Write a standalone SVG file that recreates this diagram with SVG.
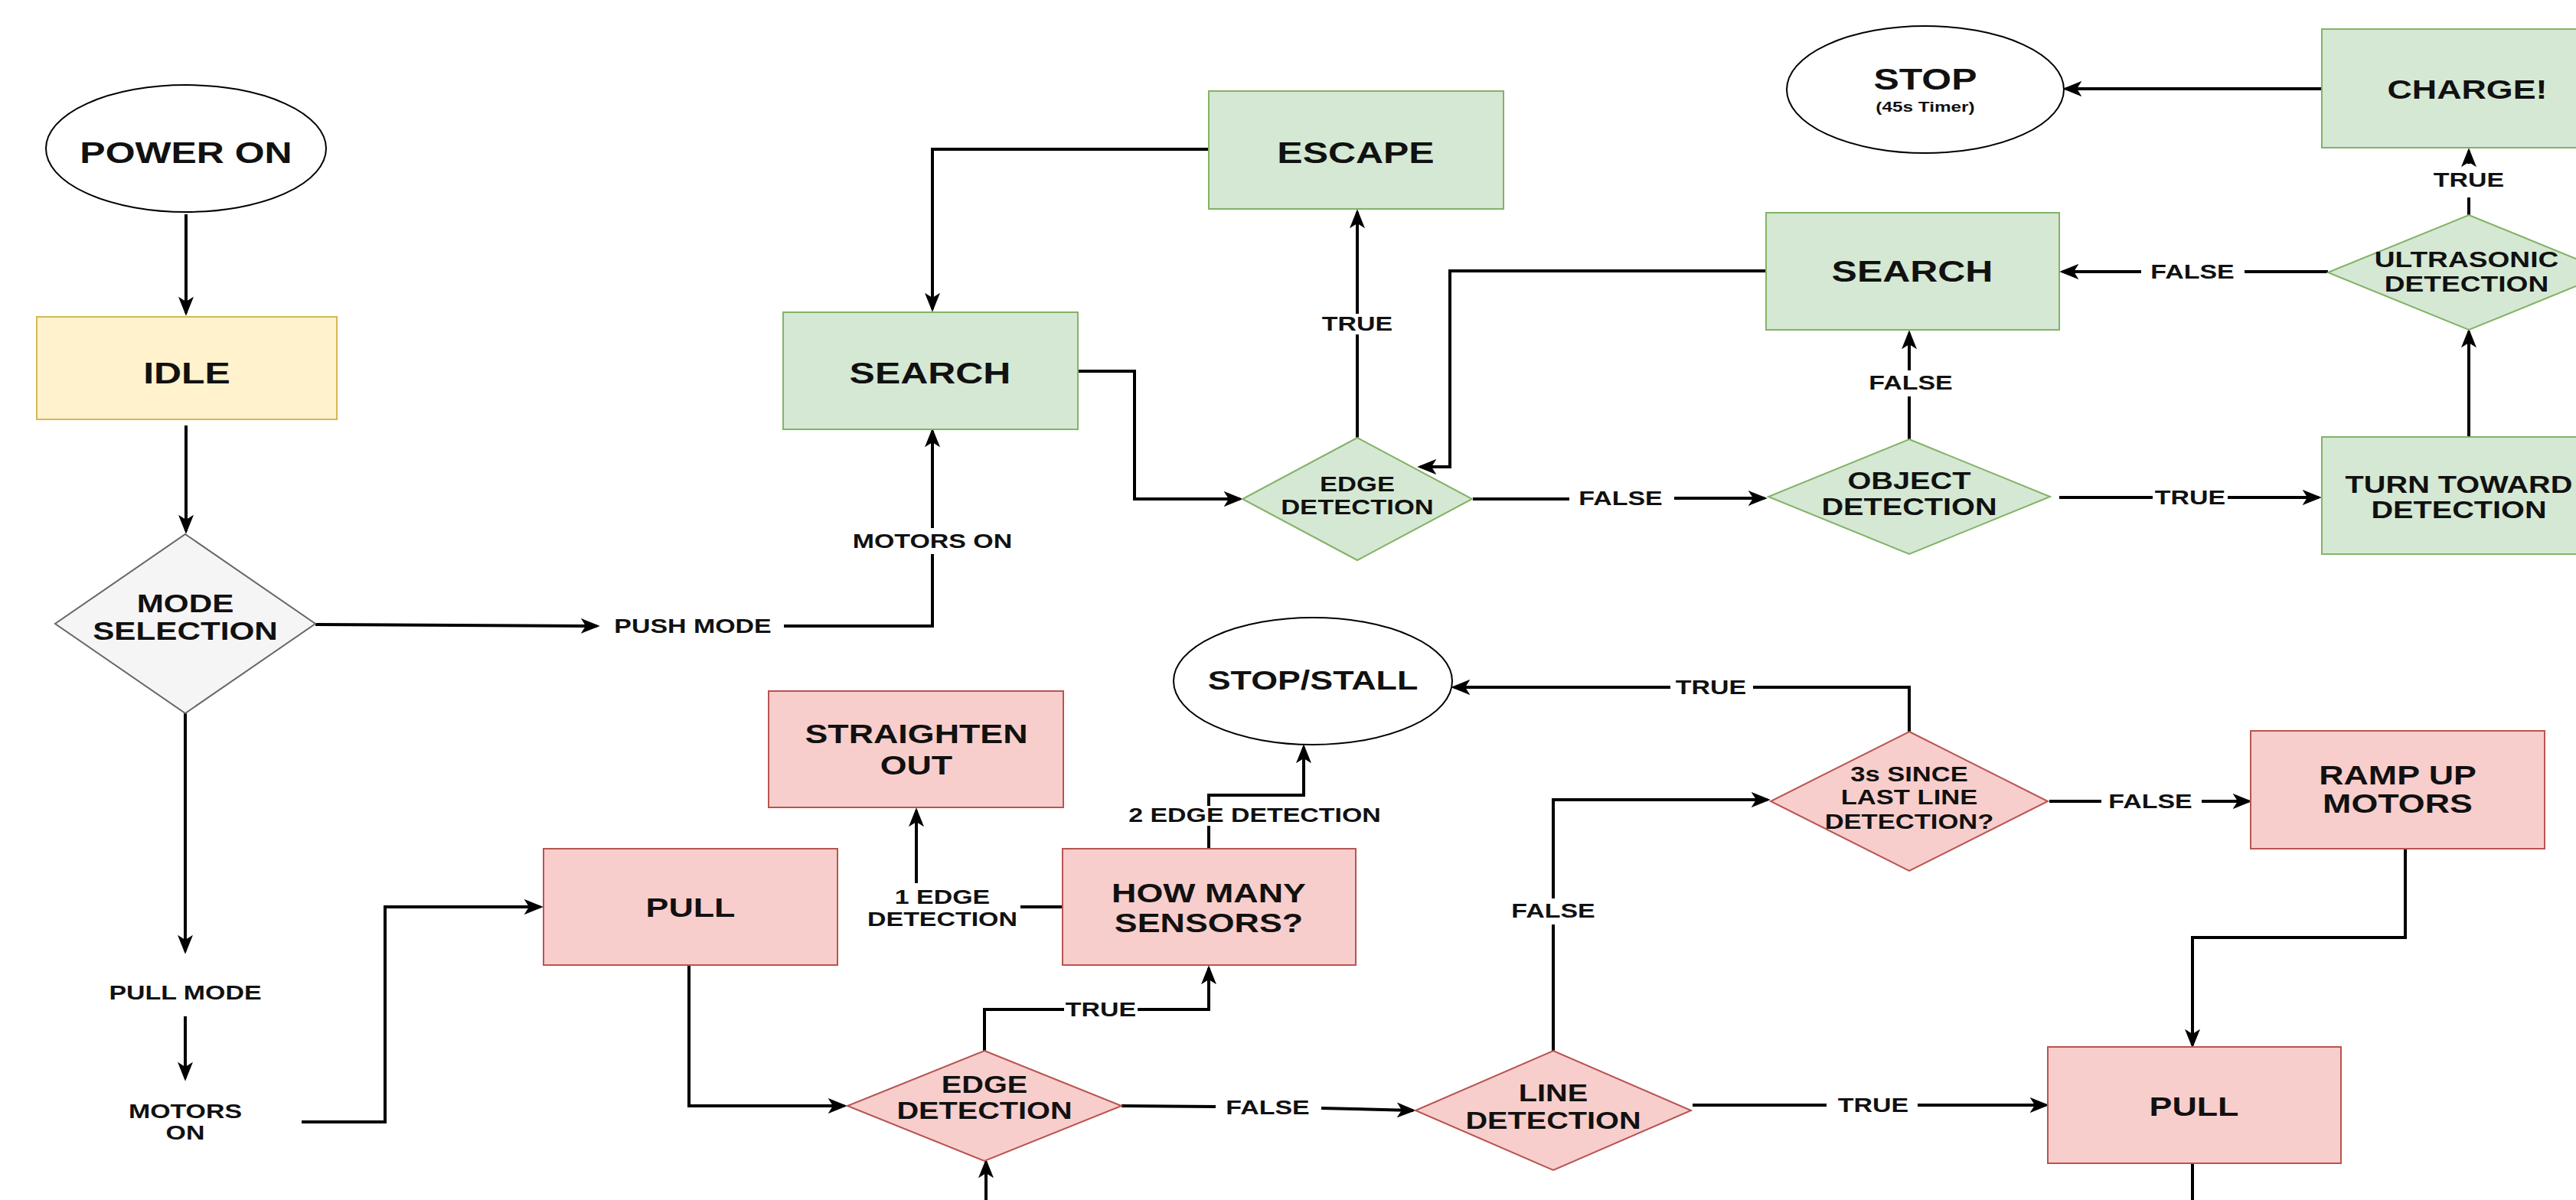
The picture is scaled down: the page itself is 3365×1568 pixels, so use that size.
<svg xmlns="http://www.w3.org/2000/svg" width="3365" height="1568" viewBox="0 0 3365 1568">
<style>
.g{fill:#d5e8d4;stroke:#82b366;stroke-width:2}
.r{fill:#f8cecc;stroke:#b85450;stroke-width:2}
.y{fill:#fff2cc;stroke:#d6b656;stroke-width:2}
.gr{fill:#f5f5f5;stroke:#666;stroke-width:2}
.e{fill:#fff;stroke:#000;stroke-width:2}
.c path{fill:none;stroke:#000;stroke-width:4}
.c path.a{marker-end:url(#ah)}
text{font-family:"Liberation Sans",Arial,sans-serif;font-weight:bold;fill:#111;text-anchor:middle;transform-box:fill-box;transform-origin:center;transform:scaleX(1.28)}
.f39{font-size:39px}.f35{font-size:35px}.f33{font-size:33px}.f31{font-size:31px}.f29{font-size:29px}.f27{font-size:27px}.f19{font-size:19px}
.l{font-size:26.5px}
</style>
<defs>
<marker id="ah" viewBox="0 0 20 16" refX="17" refY="8" markerWidth="25" markerHeight="20" markerUnits="userSpaceOnUse" orient="auto">
<path d="M0,0 L20,8 L0,16 L5,8 z" fill="#000"/>
</marker>
</defs>
<rect width="3365" height="1568" fill="#fff"/>

<g id="connectors" class="c">
<path class="a" d="M243,280 V409"/>
<path class="a" d="M243,556 V694"/>
<path class="a" d="M412,816 L780,818"/>
<path d="M1024,818 H1218 V724"/>
<path class="a" d="M1218,690 V563"/>
<path class="a" d="M242,932 V1243"/>
<path class="a" d="M242,1328 V1409"/>
<path class="a" d="M394,1466 H503 V1185 H706"/>
<path class="a" d="M1579,195 H1218 V404"/>
<path class="a" d="M1408,485 H1482 V652 H1620"/>
<path d="M1773,572 V437"/>
<path class="a" d="M1773,410 V277"/>
<path d="M1924,652 H2050"/>
<path class="a" d="M2187,651 H2305"/>
<path class="a" d="M2307,354 H1894 V610 H1855"/>
<path d="M2494,574 V518"/>
<path class="a" d="M2494,484 V435"/>
<path d="M2690,650 H2812"/>
<path class="a" d="M2910,650 H3029"/>
<path class="a" d="M3225,571 V433"/>
<path d="M3225,281 V258"/>
<path class="a" d="M3225,214 V197"/>
<path d="M3041,355 H2932"/>
<path class="a" d="M2797,355 H2694"/>
<path class="a" d="M3033,116 H2698"/>
<path class="a" d="M900,1261 V1445 H1103"/>
<path d="M1286,1373 V1319 H1390"/>
<path class="a" d="M1486,1319 H1579 V1265"/>
<path d="M1388,1185 H1333"/>
<path class="a" d="M1197,1154 V1059"/>
<path d="M1579,1109 V1079"/>
<path class="a" d="M1579,1053 V1039 H1703 V976"/>
<path d="M2494,956 V898 H2290"/>
<path class="a" d="M2182,898 H1899"/>
<path d="M1465,1445 L1588,1446"/>
<path class="a" d="M1726,1448 L1846,1451"/>
<path d="M2029,1373 V1208"/>
<path class="a" d="M2029,1174 V1045 H2309"/>
<path d="M2211,1444 H2386"/>
<path class="a" d="M2505,1444 H2673"/>
<path d="M2677,1047 H2745"/>
<path class="a" d="M2876,1047 H2938"/>
<path class="a" d="M3142,1109 V1225 H2864 V1366"/>
<path d="M2864,1520 V1568"/>
<path class="a" d="M1288,1568 V1518"/>
</g>

<g id="edge-labels">
<text class="l" x="905" y="827.5">PUSH MODE</text>
<text class="l" x="1218" y="716.5">MOTORS ON</text>
<text class="l" x="242" y="1306.5">PULL MODE</text>
<text class="l" x="242" y="1461.5">MOTORS</text>
<text class="l" x="242" y="1489.5">ON</text>
<text class="l" x="1773" y="432.5">TRUE</text>
<text class="l" x="2117" y="660.5">FALSE</text>
<text class="l" x="2496" y="509.5">FALSE</text>
<text class="l" x="2861" y="659.5">TRUE</text>
<text class="l" x="3225" y="244.5">TRUE</text>
<text class="l" x="2864" y="364.5">FALSE</text>
<text class="l" x="1438" y="1328.5">TRUE</text>
<text class="l" x="1231" y="1181.5">1 EDGE</text>
<text class="l" x="1231" y="1210.5">DETECTION</text>
<text class="l" x="1639" y="1074.5">2 EDGE DETECTION</text>
<text class="l" x="2235" y="907.5">TRUE</text>
<text class="l" x="1656" y="1456.5">FALSE</text>
<text class="l" x="2029" y="1199.5">FALSE</text>
<text class="l" x="2447" y="1453.5">TRUE</text>
<text class="l" x="2809" y="1056.5">FALSE</text>
</g>

<g id="power-on"><ellipse class="e" cx="243" cy="194" rx="183" ry="83"/><text class="f39" x="243" y="213">POWER ON</text></g>
<g id="idle"><rect class="y" x="48" y="414" width="392" height="134"/><text class="f39" x="244" y="501">IDLE</text></g>
<g id="mode-selection"><polygon class="gr" points="242,698 412,815 242,932 72,815"/><text class="f33" x="242" y="800">MODE</text><text class="f33" x="242" y="836">SELECTION</text></g>

<g id="search-1"><rect class="g" x="1023" y="408" width="385" height="153"/><text class="f39" x="1215" y="501">SEARCH</text></g>
<g id="escape"><rect class="g" x="1579" y="119" width="385" height="154"/><text class="f39" x="1771" y="213">ESCAPE</text></g>
<g id="edge-detection-1"><polygon class="g" points="1773,572 1923,652 1773,732 1623,652"/><text class="f27" x="1773" y="642">EDGE</text><text class="f27" x="1773" y="672">DETECTION</text></g>
<g id="object-detection"><polygon class="g" points="2494,574 2678,649 2494,724 2310,649"/><text class="f31" x="2494" y="639">OBJECT</text><text class="f31" x="2494" y="673">DETECTION</text></g>
<g id="search-2"><rect class="g" x="2307" y="278" width="383" height="153"/><text class="f39" x="2498" y="368">SEARCH</text></g>
<g id="turn-toward"><rect class="g" x="3033" y="571" width="390" height="153"/><text class="f31" x="3212" y="644">TURN TOWARD</text><text class="f31" x="3212" y="677">DETECTION</text></g>
<g id="ultrasonic"><polygon class="g" points="3225,281 3409,356 3225,431 3041,356"/><text class="f29" x="3222" y="349.5">ULTRASONIC</text><text class="f29" x="3222" y="381">DETECTION</text></g>
<g id="charge"><rect class="g" x="3033" y="38" width="390" height="155"/><text class="f35" x="3223" y="129">CHARGE!</text></g>
<g id="stop"><ellipse class="e" cx="2515" cy="117" rx="181" ry="83"/><text class="f39" x="2515" y="117">STOP</text><text class="f19" x="2515" y="146">(45s Timer)</text></g>

<g id="pull-1"><rect class="r" x="710" y="1109" width="384" height="152"/><text class="f35" x="902" y="1198">PULL</text></g>
<g id="straighten-out"><rect class="r" x="1004" y="903" width="385" height="152"/><text class="f35" x="1197" y="971">STRAIGHTEN</text><text class="f35" x="1197" y="1012">OUT</text></g>
<g id="how-many"><rect class="r" x="1388" y="1109" width="383" height="152"/><text class="f35" x="1579" y="1179">HOW MANY</text><text class="f35" x="1579" y="1218">SENSORS?</text></g>
<g id="edge-detection-2"><polygon class="r" points="1286,1373 1465,1445 1286,1517 1107,1445"/><text class="f31" x="1286" y="1428">EDGE</text><text class="f31" x="1286" y="1462">DETECTION</text></g>
<g id="stop-stall"><ellipse class="e" cx="1715" cy="890" rx="182" ry="83"/><text class="f35" x="1715" y="901">STOP/STALL</text></g>
<g id="line-detection"><polygon class="r" points="2029,1373 2209,1451 2029,1529 1849,1451"/><text class="f31" x="2029" y="1439">LINE</text><text class="f31" x="2029" y="1475">DETECTION</text></g>
<g id="three-seconds"><polygon class="r" points="2494,956 2675,1047 2494,1138 2313,1047"/><text class="f27" x="2494" y="1021">3s SINCE</text><text class="f27" x="2494" y="1051">LAST LINE</text><text class="f27" x="2494" y="1083">DETECTION?</text></g>
<g id="ramp-up"><rect class="r" x="2940" y="955" width="384" height="154"/><text class="f35" x="3132" y="1025">RAMP UP</text><text class="f35" x="3132" y="1062">MOTORS</text></g>
<g id="pull-2"><rect class="r" x="2675" y="1368" width="383" height="152"/><text class="f35" x="2866" y="1458">PULL</text></g>
</svg>
